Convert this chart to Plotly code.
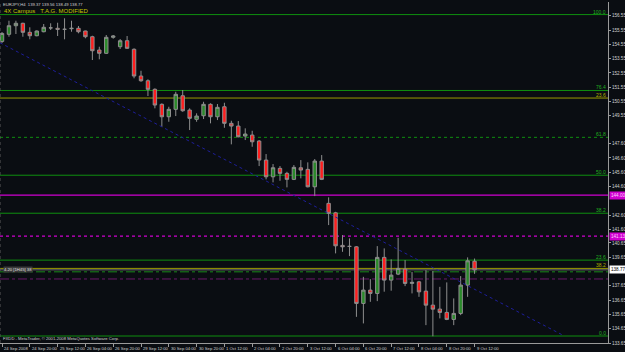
import plotly.graph_objects as go

# ---------------- data (EURJPY, H4) ----------------
opens = [154.75,155.25,155.85,156.02,155.39,155.15,155.43,155.70,155.67,155.60,
         155.64,155.67,155.48,155.08,154.15,153.92,155.04,154.38,154.80,154.20,
         152.33,152.00,151.40,150.35,149.48,150.00,150.95,149.95,149.30,149.55,
         150.35,149.48,150.18,149.02,148.83,148.13,148.20,147.78,146.45,145.28,
         145.87,145.52,145.10,145.91,145.80,144.58,146.38,143.42,142.76,140.48,
         140.41,140.38,136.42,137.35,137.12,139.64,138.05,138.47,138.82,137.82,
         137.93,137.28,136.30,136.02,135.79,135.30,135.72,137.70,139.37]
highs = [155.41,156.20,156.20,156.06,155.74,155.52,155.97,156.02,156.06,156.37,
         156.20,155.83,155.50,155.15,154.38,155.20,155.20,154.92,155.13,154.27,
         152.70,152.10,151.47,150.42,150.18,151.23,151.35,150.07,149.72,150.53,
         150.42,150.37,150.46,149.20,149.18,148.67,148.50,147.85,146.87,146.17,
         146.03,145.63,146.10,146.45,146.29,146.52,146.80,143.84,142.83,141.20,
         140.97,140.43,138.28,138.12,140.43,140.27,139.50,141.01,139.45,138.63,
         138.00,138.75,138.68,137.58,137.89,136.77,138.33,139.64,139.56]
lows = [154.64,155.08,155.27,155.08,154.90,155.11,155.39,155.55,155.13,154.90,
        155.43,155.32,154.97,153.45,153.50,153.87,154.94,154.22,154.22,152.17,
        151.93,150.93,150.07,148.78,149.13,149.53,149.83,148.55,149.13,149.32,
        149.02,149.25,148.71,147.55,148.04,147.85,147.38,146.03,145.10,144.89,
        145.00,144.54,145.05,145.17,144.54,143.93,145.05,141.90,139.92,140.03,
        139.73,135.48,135.02,136.53,136.58,137.24,137.31,138.40,137.63,137.12,
        136.88,134.90,134.12,135.37,135.25,134.90,135.60,136.88,138.49]
closes = [155.31,155.85,156.02,155.39,155.15,155.48,155.74,155.70,155.60,155.60,
          155.67,155.43,155.08,154.10,153.92,155.04,155.13,154.80,154.27,152.33,
          152.00,151.40,150.30,149.48,150.00,151.05,149.90,149.37,149.53,150.35,
          149.48,150.14,149.02,148.83,148.08,148.27,147.73,146.45,145.28,145.91,
          145.52,145.10,145.94,145.75,144.58,146.38,145.10,142.72,140.45,140.38,
          140.41,136.42,137.35,137.12,139.64,138.05,138.40,138.87,137.82,137.89,
          137.23,136.30,136.02,135.79,135.30,135.72,137.70,139.40,138.77]

time_labels = ["24 Sep 2008", "24 Sep 20:00", "25 Sep 12:00", "26 Sep 04:00",
               "26 Sep 20:00", "29 Sep 12:00", "30 Sep 04:00", "30 Sep 20:00",
               "1 Oct 12:00", "2 Oct 04:00", "2 Oct 20:00", "3 Oct 12:00",
               "6 Oct 04:00", "6 Oct 20:00", "7 Oct 12:00", "8 Oct 04:00",
               "8 Oct 20:00", "9 Oct 12:00"]
time_label_bars = list(range(0, 69, 4))

price_ticks = [156.55, 155.55, 154.55, 153.55, 152.55, 151.55, 150.55, 149.55,
               147.60, 146.60, 145.60, 144.60, 142.60, 141.60, 140.65, 139.65,
               137.65, 136.65, 135.65, 134.65, 133.65]

fib_levels = [156.63, 151.32, 148.04, 145.39, 142.73, 139.45, 134.14]
fib_labels = ["100.0", "76.4", "61.8", "50.0", "38.2", "23.6", "0.0"]
olive_levels = [150.79, 138.87]
olive_labels = ["23.6", "38.2"]
magenta_levels = [144.00, 141.13]
magenta_labels = ["144.00", "141.13"]
green_dashdot_level = 138.63
purple_dashdot_level = 138.13
bid_price = 138.77

trend_x = [-0.3, 80.7]
trend_y = [154.66, 134.20]

header = "EURJPY,H4  139.37 139.56 138.49 138.77"
title = "4X Campus   T.A.G. MODIFIED"
footer = "FXDD - MetaTrader, \u00a9 2001-2008 MetaQuotes Software Corp."
side_label = "4.20 [1H45] 38"

# ---------------- style ----------------
BG = "#0a0d12"
BULL = "#2a8a2a"
BEAR = "#ff1e1e"
WICK = "#8e8e8e"
AXIS = "#9a9a9a"
TXT = "#d0d0d0"
FIBG = "#0f8f0f"
OLIVE = "#9a9a00"
MAG = "#d000d0"
FONT = "Liberation Sans, Arial, sans-serif"

bars = list(range(len(opens)))

fig = go.Figure()
fig.add_trace(go.Candlestick(
    x=bars, open=opens, high=highs, low=lows, close=closes,
    increasing=dict(line=dict(color=WICK, width=1), fillcolor=BULL),
    decreasing=dict(line=dict(color=WICK, width=1), fillcolor=BEAR),
    whiskerwidth=0, hoverinfo="skip", showlegend=False))

fig.add_trace(go.Scatter(x=trend_x, y=trend_y, mode="lines",
                         line=dict(color="#1e1e9a", width=1, dash="dot"),
                         hoverinfo="skip", showlegend=False))

def hline(y, color, width=1, dash="solid"):
    fig.add_shape(type="line", xref="paper", x0=0, x1=1, yref="y", y0=y, y1=y,
                  line=dict(color=color, width=width, dash=dash), layer="below")

def level_label(y, text, color):
    fig.add_annotation(x=1, xref="paper", xanchor="right", xshift=-1,
                       y=y, yref="y", yanchor="bottom", yshift=-1,
                       text=text, showarrow=False, borderpad=0,
                       font=dict(family=FONT, size=5, color=color))

for lv, lb in zip(fib_levels, fib_labels):
    dash = "dot" if lb == "61.8" else "solid"
    hline(lv, FIBG, 1, dash)
    level_label(lv, lb, "#20b020")

for lv, lb in zip(olive_levels, olive_labels):
    hline(lv, OLIVE, 1)
    level_label(lv, lb, "#b0b000")

hline(magenta_levels[0], MAG, 1.4, "solid")
hline(magenta_levels[1], MAG, 1.2, "dot")
hline(bid_price, "#6e6e6e", 1)
hline(green_dashdot_level, "#1a8a1a", 1, "dashdot")
hline(purple_dashdot_level, "#6a1a6a", 1, "dashdot")

# axis price boxes
for lv, lb in zip(magenta_levels, magenta_labels):
    fig.add_annotation(x=1, xref="paper", xanchor="left", xshift=1, y=lv, yref="y",
                       text=lb, showarrow=False, bgcolor=MAG, borderpad=1,
                       font=dict(family=FONT, size=4.6, color="#ffd0ff"))
fig.add_annotation(x=1, xref="paper", xanchor="left", xshift=1, y=bid_price, yref="y",
                   text=f"{bid_price:.2f}", showarrow=False, bgcolor="#ffffff", borderpad=1,
                   font=dict(family=FONT, size=4.6, color="#000000"))

# time labels (left-aligned after tick)
for b, t in zip(time_label_bars, time_labels):
    fig.add_annotation(x=b, xref="x", xanchor="left", xshift=1,
                       y=0, yref="paper", yanchor="top", yshift=-2,
                       text=t, showarrow=False, borderpad=0,
                       font=dict(family=FONT, size=4.2, color=TXT))

# texts
fig.add_annotation(x=0, xref="paper", xanchor="left", xshift=2, y=1, yref="paper",
                   yanchor="top", yshift=1, text=header, showarrow=False, borderpad=0,
                   font=dict(family=FONT, size=4.2, color=TXT))
fig.add_annotation(x=0, xref="paper", xanchor="left", xshift=3, y=fib_levels[0], yref="y",
                   yanchor="bottom", yshift=0, text=title, showarrow=False, borderpad=0,
                   font=dict(family=FONT, size=6, color="#c4c400"))
fig.add_annotation(x=0, xref="paper", xanchor="left", xshift=2, y=0, yref="paper",
                   yanchor="bottom", yshift=1, text=footer, showarrow=False, borderpad=0,
                   font=dict(family=FONT, size=4.2, color=TXT))
fig.add_annotation(x=0, xref="paper", xanchor="left", xshift=3, y=bid_price, yref="y",
                   yanchor="middle", text=side_label, showarrow=False, bgcolor="#3a3a3a",
                   borderpad=0, font=dict(family=FONT, size=4.2, color="#e0e0e0"))

fig.update_layout(
    width=625, height=352,
    margin=dict(l=0, r=17, t=2, b=9),
    paper_bgcolor=BG, plot_bgcolor=BG,
    showlegend=False,
    xaxis=dict(range=[-0.29, 87.2], rangeslider=dict(visible=False),
               showgrid=False, zeroline=False, showline=True, linecolor=AXIS,
               linewidth=1, tickvals=time_label_bars, ticktext=[""] * len(time_label_bars),
               ticks="outside", ticklen=3, tickcolor=AXIS, fixedrange=True),
    yaxis=dict(range=[133.65, 157.51], side="right", showgrid=False, zeroline=False,
               showline=True, linecolor=AXIS, linewidth=1, mirror=False,
               tickvals=price_ticks, ticktext=[f"{v:.2f}" for v in price_ticks],
               ticks="outside", ticklen=2, tickcolor=AXIS,
               tickfont=dict(family=FONT, size=4.6, color=TXT), fixedrange=True),
)
# left border
fig.add_shape(type="line", xref="paper", yref="paper", x0=0, x1=0, y0=0, y1=1,
              line=dict(color="#5a5a5a", width=1, dash="dot"))

fig.write_html("out.html", config={"displayModeBar": False, "staticPlot": True})
